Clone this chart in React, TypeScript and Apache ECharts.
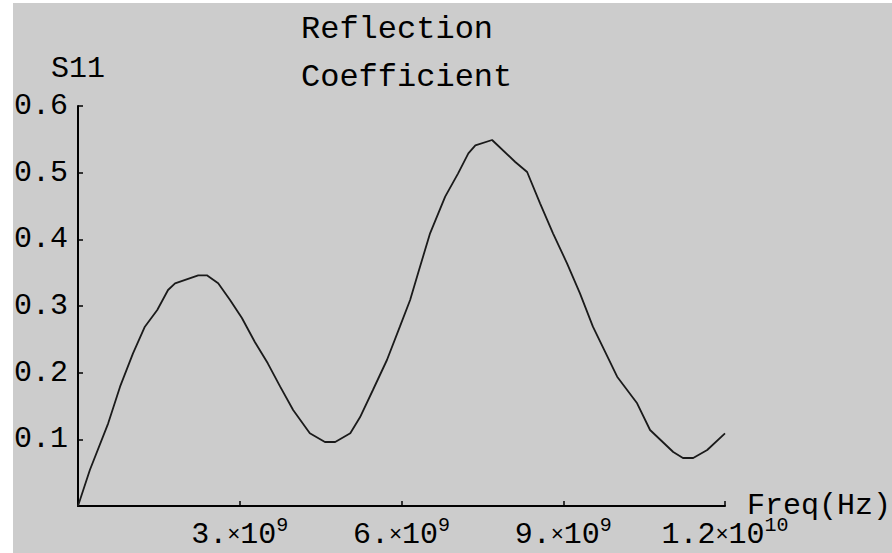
import React, { useEffect, useRef } from "react";
import * as echarts from "echarts";

// frequency in units of 1e9 Hz
const freqE9 = [0, 0.22, 0.56, 0.78, 1.02, 1.24, 1.47, 1.67, 1.8, 2.23, 2.39, 2.6, 2.82, 3.04, 3.28, 3.52, 3.75, 3.99, 4.3, 4.58, 4.77, 5.05, 5.23, 5.47, 5.73, 5.97, 6.16, 6.31, 6.53, 6.81, 7.05, 7.24, 7.37, 7.68, 8.11, 8.33, 8.57, 8.81, 9.07, 9.31, 9.55, 10.0, 10.37, 10.61, 11.04, 11.22, 11.41, 11.67, 12.0];
const s11 = [0, 0.054, 0.124, 0.179, 0.229, 0.269, 0.294, 0.324, 0.334, 0.346, 0.346, 0.334, 0.309, 0.282, 0.246, 0.214, 0.179, 0.144, 0.109, 0.096, 0.096, 0.109, 0.133, 0.174, 0.219, 0.269, 0.309, 0.35, 0.409, 0.464, 0.499, 0.529, 0.541, 0.549, 0.516, 0.501, 0.454, 0.409, 0.364, 0.319, 0.269, 0.194, 0.154, 0.114, 0.081, 0.072, 0.072, 0.084, 0.109];

const xTickValues = [3, 6, 9, 12];
const xTickMantissa = ["3.", "6.", "9.", "1.2"];
const xTickExp = ["9", "9", "9", "10"];
const yTickValues = [0.1, 0.2, 0.3, 0.4, 0.5, 0.6];
const yTickLabels = ["0.1", "0.2", "0.3", "0.4", "0.5", "0.6"];

const FONT = "Liberation Mono";

export default function App() {
  const ref = useRef<HTMLDivElement>(null);
  useEffect(() => {
    if (!ref.current) return;
    const chart = echarts.init(ref.current, null, { renderer: "svg" });
    chart.setOption({
      animation: false,
      backgroundColor: "#cccccc",
      title: {
        text: "Reflection\nCoefficient",
        left: 288,
        top: 2,
        padding: 0,
        textStyle: {
          fontFamily: FONT,
          fontSize: 32,
          fontWeight: "normal",
          color: "#000",
          lineHeight: 48,
        },
      },
      grid: { left: 65, top: 103, width: 647, height: 400, containLabel: false, outerBoundsMode: "none" },
      xAxis: {
        type: "value",
        min: 0,
        max: 12,
        interval: 3,
        name: "Freq(Hz)",
        nameLocation: "end",
        nameGap: 22,
        nameMoveOverlap: false,
        nameTextStyle: { fontFamily: FONT, fontSize: 30, color: "#000" },
        splitLine: { show: false },
        axisLine: { lineStyle: { color: "#000", width: 2 } },
        axisTick: { inside: true, length: 5, lineStyle: { color: "#000", width: 1.5 } },
        axisLabel: {
          margin: 9,
          showMinLabel: true,
          hideOverlap: false,
          formatter: (v: number) => {
            const i = xTickValues.indexOf(Math.round(v));
            if (i < 0) return "";
            return `{m|${xTickMantissa[i]}}{x|×}{m|10}{e|${xTickExp[i]}}`;
          },
          rich: {
            m: { fontFamily: FONT, fontSize: 30, color: "#000", lineHeight: 40 },
            x: { fontFamily: FONT, fontSize: 22, color: "#000", lineHeight: 40 },
            e: { fontFamily: FONT, fontSize: 20, color: "#000", lineHeight: 16, verticalAlign: "top" },
          },
        },
      },
      yAxis: {
        type: "value",
        min: 0,
        max: 0.6,
        interval: 0.1,
        name: "S11",
        nameLocation: "end",
        nameGap: 22,
        nameMoveOverlap: false,
        nameTextStyle: { fontFamily: FONT, fontSize: 30, color: "#000", align: "center" },
        splitLine: { show: false },
        axisLine: { lineStyle: { color: "#000", width: 2 } },
        axisTick: { inside: true, length: 5, lineStyle: { color: "#000", width: 1.5 } },
        axisLabel: {
          margin: 10,
          fontFamily: FONT,
          fontSize: 30,
          color: "#000",
          formatter: (v: number) => {
            const i = yTickValues.findIndex((t) => Math.abs(t - v) < 1e-9);
            return i < 0 ? "" : yTickLabels[i];
          },
        },
      },
      series: [
        {
          type: "line",
          data: freqE9.map((f, i) => [f, s11[i]]),
          showSymbol: false,
          smooth: false,
          lineStyle: { color: "#1a1a1a", width: 1.8 },
        },
      ],
    });
    return () => chart.dispose();
  }, []);
  return (
    <div style={{ position: "fixed", left: 0, top: 0, width: 892, height: 553, background: "#ffffff" }}>
      <div ref={ref} style={{ position: "absolute", left: 13, top: 3, width: 879, height: 550 }} />
    </div>
  );
}
